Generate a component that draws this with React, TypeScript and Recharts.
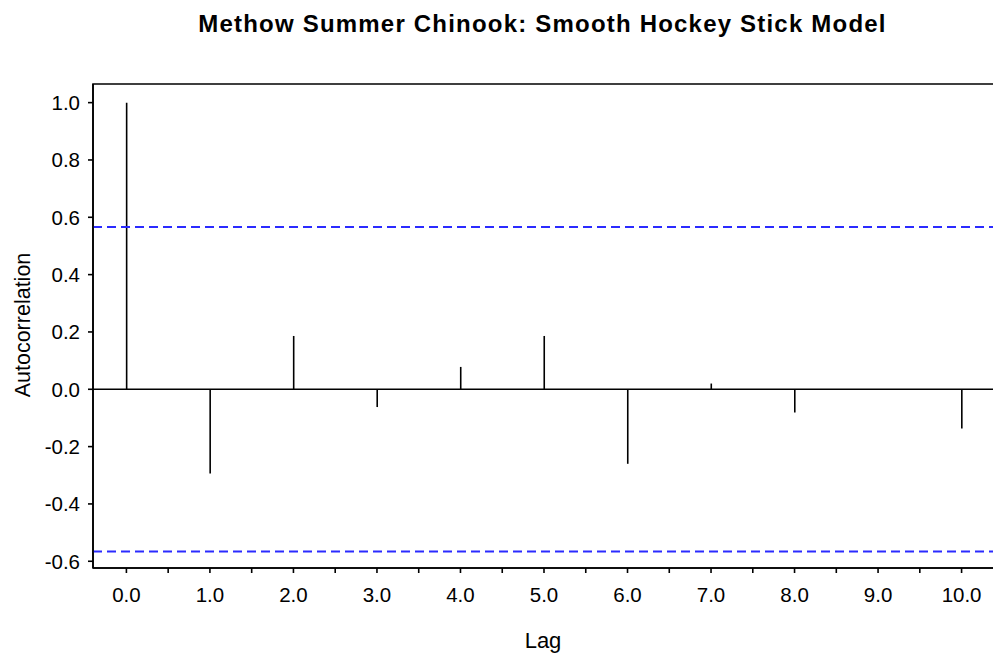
import React from 'react';
import { ComposedChart, Bar, XAxis, YAxis, ReferenceLine, ReferenceArea } from 'recharts';

const lags = [0, 1, 2, 3, 4, 5, 6, 7, 8, 9, 10];
const acf = [1.0, -0.294, 0.186, -0.062, 0.078, 0.186, -0.26, 0.02, -0.081, 0.0, -0.137];
const confLimit = 0.5657;
const xTicks = [0, 0.5, 1, 1.5, 2, 2.5, 3, 3.5, 4, 4.5, 5, 5.5, 6, 6.5, 7, 7.5, 8, 8.5, 9, 9.5, 10];
const yTicks = [-0.6, -0.4, -0.2, 0.0, 0.2, 0.4, 0.6, 0.8, 1.0];

const data = lags.map((lag, i) => ({ lag, acf: acf[i] }));

const FONT = '"Liberation Sans", Arial, sans-serif';

const Stem = (props: any) => {
  const { x, y, width, height } = props;
  const cx = x + width / 2;
  const y1 = Math.min(y, y + height);
  const y2 = Math.max(y, y + height);
  return <line x1={cx} x2={cx} y1={y1} y2={y2} stroke="#000" strokeWidth={1.6} />;
};

export default function App() {
  return (
    <div style={{ position: 'absolute', left: 0, top: 0, width: 993, height: 654, overflow: 'hidden', background: '#fff', fontFamily: FONT }}>
      <div style={{ position: 'absolute', left: 0, width: 1085, top: 10, textAlign: 'center', fontWeight: 'bold', fontSize: 24, letterSpacing: 1.2, color: '#000', whiteSpace: 'nowrap' }}>
        Methow Summer Chinook: Smooth Hockey Stick Model
      </div>
      <div style={{ position: 'absolute', left: 0, width: 1086, top: 628, textAlign: 'center', fontSize: 22, color: '#000' }}>Lag</div>
      <div style={{ position: 'absolute', left: 23, top: 325, width: 0, height: 0 }}>
        <div style={{ position: 'absolute', transform: 'translate(-50%, -50%) rotate(-90deg)', whiteSpace: 'nowrap', fontSize: 21.5, color: '#000' }}>
          Autocorrelation
        </div>
      </div>
      <div style={{ position: 'absolute', left: 0, top: 0 }}>
        <ComposedChart width={1010} height={654} data={data} margin={{ top: 84, right: 10, left: 0, bottom: 0 }}>
          <XAxis
            type="number"
            dataKey="lag"
            domain={[-0.4, 10.46]}
            ticks={xTicks}
            allowDataOverflow
            height={86}
            interval={0}
            tickFormatter={(v: number) => (Number.isInteger(v) ? v.toFixed(1) : '')}
            tick={{ fill: '#000', fontSize: 20.5, fontFamily: FONT }}
            tickSize={5}
            tickMargin={14}
            axisLine={{ stroke: '#000', strokeWidth: 1.6 }}
            tickLine={{ stroke: '#000', strokeWidth: 1.6 }}
          />
          <YAxis
            type="number"
            domain={[-0.6235, 1.065]}
            ticks={yTicks}
            allowDataOverflow
            width={93}
            interval={0}
            tickFormatter={(v: number) => v.toFixed(1)}
            tick={{ fill: '#000', fontSize: 20.5, fontFamily: FONT }}
            tickSize={5}
            tickMargin={8}
            axisLine={{ stroke: '#000', strokeWidth: 1.6 }}
            tickLine={{ stroke: '#000', strokeWidth: 1.6 }}
          />
          <ReferenceArea x1={-0.4} x2={10.46} y1={-0.6235} y2={1.065} fill="none" stroke="#000" strokeWidth={1.6} ifOverflow="visible" />
          <ReferenceLine y={0} stroke="#000" strokeWidth={1.6} />
          <ReferenceLine y={confLimit} stroke="#2b2bff" strokeWidth={2} strokeDasharray="9 5" />
          <ReferenceLine y={-confLimit} stroke="#2b2bff" strokeWidth={2} strokeDasharray="9 5" />
          <Bar dataKey="acf" barSize={2} shape={Stem} isAnimationActive={false} />
        </ComposedChart>
      </div>
    </div>
  );
}
